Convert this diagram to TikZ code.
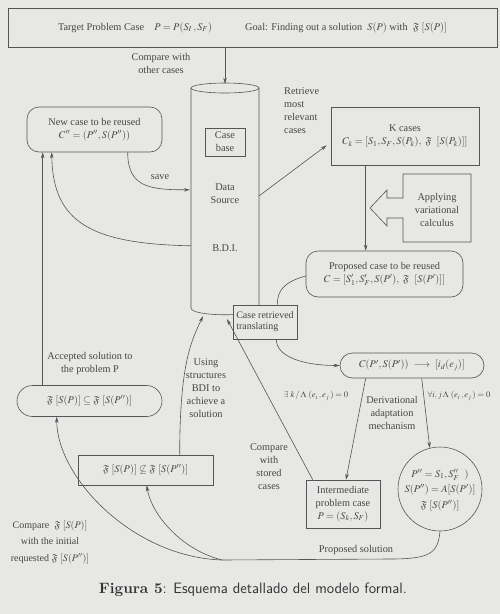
\documentclass[tikz,border=0pt]{standalone}
\usepackage{mathptmx}
\usepackage{amssymb}
\usepackage{fontspec}
\setmainfont{Liberation Serif}
\newfontfamily\capbold{lmroman10-bold.otf}
\usetikzlibrary{arrows.meta,calc}
\definecolor{bgc}{RGB}{231,231,229}
\definecolor{lnc}{RGB}{85,85,85}
\definecolor{txc}{RGB}{70,70,70}
\newcommand\dfont{\fontsize{10.3}{13}\selectfont}
\newcommand\sfont{\fontsize{8.5}{10}\selectfont}
\begin{document}
\begin{tikzpicture}[x=1pt,y=-1pt,
  box/.style={draw=lnc, line width=0.6pt, fill=bgc, inner sep=0pt, align=center, text=txc, font=\dfont},
  lbl/.style={text=txc, align=center, font=\dfont, inner sep=0pt},
  arr/.style={draw=lnc, line width=0.6pt, -{Stealth[length=6pt,width=3.5pt]}},
  ln/.style={draw=lnc, line width=0.6pt}]
\fill[bgc] (0,0) rectangle (500,614);
\useasboundingbox (0,0) rectangle (500,614);

% top box
\node[box, minimum width=489pt, minimum height=39pt] (top) at (252.5,27.5)
  {Target Problem Case\quad $P = P(S_I\,, S_F)$\hspace{3.2em}Goal: Finding out a solution\enspace $S(P)$ with\enspace $\mathfrak{F}\ [S(P)]$};

% cylinder
\node[minimum width=68pt, minimum height=232pt, inner sep=0pt] (cyl) at (225,200) {};
\draw[ln, fill=bgc] (191,88) -- (191,308) .. controls (191,317) and (259,317) .. (259,308) -- (259,88);
\draw[ln] (225,88) ellipse [x radius=34, y radius=5];
\node[box, minimum width=40pt, minimum height=28pt] (cbase) at (225,142) {Case\\base};
\node[lbl] (dsrc) at (225,194) {Data\\Source};
\node[lbl] (bdi) at (225,248) {B.D.I.};

% boxes
\node[box, rounded corners=12pt, minimum width=135pt, minimum height=45pt] (newcase) at (94.5,129.5)
  {New case to be reused\\$C'' = (P'', S(P''))$};
\node[box, minimum width=148pt, minimum height=58pt] (kcases) at (405,136)
  {K cases\\$C_k = [S_1, S_F, S(P_k),\ \mathfrak{F}\ \ [S(P_k)]]$};
\draw[ln, fill=bgc] (403,174) -- (471,174) -- (471,242) -- (403,242) -- (403,218) -- (387,218) -- (387,226) -- (370,208) -- (387,190) -- (387,198) -- (403,198) -- cycle;
\node[lbl] (apptext) at (437,210) {Applying\\variational\\calculus};
\node[box, rounded corners=12pt, minimum width=157pt, minimum height=46pt] (proposed) at (384.5,274)
  {Proposed case to be reused\\$C = [S'_1, S'_F, S(P'),\ \mathfrak{F}\ \ [S(P')]]$};
\node[box, minimum width=64pt, minimum height=34pt] (retrieved) at (265,322)
  {\fontsize{10}{12}\selectfont\begin{tabular}{@{}l@{}}Case retrieved\\[-1pt]translating\end{tabular}};
\node[box, rounded corners=12.5pt, minimum width=144pt, minimum height=25pt] (cbox) at (412,365.5)
  {$C(P',S(P'))\ \longrightarrow\ [i_d(e_j)]$};
\node[box, minimum width=74pt, minimum height=48pt] (interm) at (343,504)
  {Intermediate\\problem case\\$P = (S_k, S_F)$};
\node[box, circle, minimum size=84pt] (circ) at (440,489) {};
\node[lbl, font=\fontsize{10.3}{15.5}\selectfont] (circtext) at (440,490)
  {$P'' = S_1, S''_F\ \ )$\\$S(P'') = A[S(P')]$\\$\mathfrak{F}\ [S(P'')]$};
\node[box, rounded corners=15.5pt, minimum width=145pt, minimum height=31pt] (subset) at (89.5,401)
  {$\mathfrak{F}\ [S(P)] \subseteq \mathfrak{F}\ [S(P'')]$};
\node[box, minimum width=135pt, minimum height=30pt] (notsubset) at (145.5,470)
  {$\mathfrak{F}\ [S(P)] \not\subseteq \mathfrak{F}\ [S(P'')]$};

% labels
\node[lbl] (cmpother) at (161,63.5) {Compare with\\other cases};
\node[lbl] (save) at (160,177) {save};
\node[lbl, align=left, anchor=west] (retr) at (284,110.5) {Retrieve\\most\\relevant\\cases};
\node[lbl, font=\sfont] (exlbl) at (316,396) {$\exists\ k\,/\,\Lambda\ (e_i\,,e_j\,)=0$};
\node[lbl] (deriv) at (392,413) {Derivational\\adaptation\\mechanism};
\node[lbl, font=\sfont] (falbl) at (459,396) {$\forall i,j\,\Lambda\ (e_i\,,e_j\,)=0$};
\node[lbl] (accept) at (90,364) {Accepted solution to\\the problem P};
\node[lbl] (using) at (206,388) {Using\\structures\\BDI to\\achieve a\\solution};
\node[lbl] (cmpstored) at (269,467) {Compare\\with\\stored\\cases};
\node[lbl] (propsol) at (356,550) {Proposed solution};
\node[lbl, font=\fontsize{10}{16.5}\selectfont] (cmpinit) at (50,542)
  {Compare\ \ $\mathfrak{F}\ [S(P)]$\\with the initial\\requested $\mathfrak{F}\ [S(P'')]$};
\node[inner sep=0pt, text=black!80] (cap) at (253,590)
  {\fontsize{15}{18}\selectfont{\capbold Figura 5}\sffamily: Esquema detallado del modelo formal.};

% connectors
\draw[arr] (cyl.north |- top.south) -- (cyl.north);
\draw[arr] ($(newcase.south west)+(101,0)$) .. controls +(0,35) and +(-40,0) .. ($(cyl.north west)+(-1,106)$);
\draw[arr] ($(cyl.north east)+(0,112)$) -- ($(kcases.south west)+(-4,-20)$);
\draw[arr] ($(kcases.south west)+(35,0)$) -- ($(proposed.north west)+(60,0)$);
\draw[ln] ($(proposed.west)+(0,2)$) .. controls +(-22,6) and +(0,-14) .. ($(retrieved.north east)+(-20,0)$);
\draw[arr] ($(retrieved.south east)+(-21,0)$) .. controls +(0,18) and +(-35,0) .. (cbox.west);
\draw[arr] ($(cbox.south west)+(26,0)$) -- ($(interm.north)+(3,0)$);
\draw[arr] ($(cbox.south west)+(82,0)$) -- (circ.104);
\draw[arr] ($(interm.north west)+(7,0)$) -- ($(cyl.south)+(2,3)$);
\draw[arr] ($(notsubset.north west)+(102,0)$) .. controls +(0,-90) and +(-12,25) .. ($(cyl.south)+(-22,0)$);
\coordinate (sa) at ($(subset.north west)+(26,0)$);
\draw[arr] (sa) -- (sa |- newcase.south);
\draw[arr] ($(cyl.north west)+(0,162)$) .. controls +(-100,-2) and +(1,70) .. ($(newcase.south west)+(25,0)$);
\coordinate (br) at (222,560);
\draw[arr] (circ.south) .. controls +(-2,22) and +(40,0) .. (390,559) -- (br) .. controls +(-90,-3) and +(0,60) .. ($(subset.south west)+(40,0)$);
\draw[arr] (br) .. controls +(-40,-10) and +(5,30) .. ($(notsubset.south west)+(69,0)$);
\end{tikzpicture}
\end{document}
